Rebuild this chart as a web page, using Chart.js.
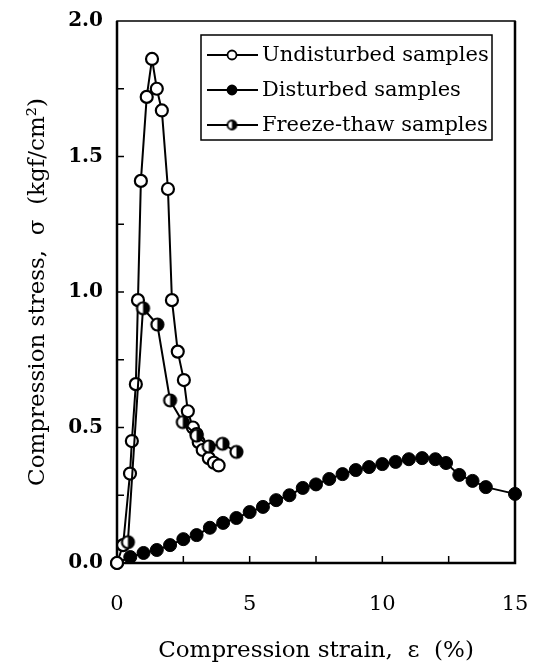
<!DOCTYPE html>
<html><head><meta charset="utf-8">
<script src="https://cdn.jsdelivr.net/npm/chart.js@4"></script>
<style>html,body{margin:0;padding:0;background:#fff}#c{display:block}</style>
</head><body>
<canvas id="c" width="541" height="670"></canvas>
<script>
const seriesLabels = ['Undisturbed samples', 'Disturbed samples', 'Freeze-thaw samples'];
const undisturbedX = [0, 0.23, 0.49, 0.56, 0.71, 0.79, 0.90, 1.12, 1.32, 1.50, 1.69, 1.92, 2.07, 2.29, 2.52, 2.67, 2.86, 3.00, 3.08, 3.23, 3.46, 3.65, 3.83];
const undisturbedY = [0, 0.066, 0.33, 0.45, 0.66, 0.97, 1.41, 1.72, 1.86, 1.75, 1.67, 1.38, 0.97, 0.78, 0.675, 0.56, 0.50, 0.476, 0.446, 0.417, 0.387, 0.37, 0.36];
const disturbedX = [0, 0.5, 1.0, 1.5, 2.0, 2.5, 3.0, 3.5, 4.0, 4.5, 5.0, 5.5, 6.0, 6.5, 7.0, 7.5, 8.0, 8.5, 9.0, 9.5, 10.0, 10.5, 11.0, 11.5, 12.0, 12.4, 12.9, 13.4, 13.9, 15.0];
const disturbedY = [0, 0.022, 0.037, 0.048, 0.066, 0.088, 0.103, 0.13, 0.148, 0.166, 0.188, 0.207, 0.232, 0.25, 0.277, 0.29, 0.31, 0.328, 0.343, 0.354, 0.365, 0.373, 0.383, 0.387, 0.383, 0.369, 0.325, 0.303, 0.28, 0.255];
const freezeX = [0.41, 0.98, 1.52, 2.00, 2.48, 3.00, 3.46, 3.98, 4.50];
const freezeY = [0.077, 0.94, 0.88, 0.60, 0.52, 0.47, 0.43, 0.44, 0.41];
const xTickLabels = [0, 5, 10, 15];
const yTickLabels = ['0.0', '0.5', '1.0', '1.5', '2.0'];
const xMinorTicks = [2.5, 5, 7.5, 10, 12.5];
const yMinorTicks = [0.25, 0.5, 0.75, 1.0, 1.25, 1.5, 1.75];

const SERIF = '"DejaVu Serif", "Liberation Serif", serif';

function halfCircle(r, lw) {
  const c = document.createElement('canvas');
  const s = Math.ceil(2 * r + lw + 2);
  c.width = c.height = s;
  const g = c.getContext('2d');
  const m = s / 2;
  g.beginPath(); g.arc(m, m, r, 0, 2 * Math.PI); g.fillStyle = '#fff'; g.fill();
  g.beginPath(); g.moveTo(m, m - r); g.arc(m, m, r, -Math.PI / 2, Math.PI / 2); g.closePath(); g.fillStyle = '#000'; g.fill();
  g.beginPath(); g.arc(m, m, r, 0, 2 * Math.PI); g.lineWidth = lw; g.strokeStyle = '#000'; g.stroke();
  return c;
}
const halfBig = halfCircle(6, 2.2);
const halfSmall = halfCircle(4.5, 1.8);

const toPts = (xs, ys) => xs.map((x, i) => ({x, y: ys[i]}));

const framePlugin = {
  id: 'frame',
  beforeDatasetsDraw(chart) {
    const {ctx, chartArea: a, scales} = chart;
    ctx.save();
    ctx.strokeStyle = '#000';
    ctx.lineWidth = 1.5;
    ctx.strokeRect(a.left, a.top, a.right - a.left, a.bottom - a.top);
    ctx.lineWidth = 2.5;
    ctx.beginPath();
    ctx.moveTo(a.left, a.top); ctx.lineTo(a.left, a.bottom); ctx.lineTo(a.right, a.bottom); ctx.lineTo(a.right, a.top);
    ctx.stroke();
    ctx.lineWidth = 1.5;
    ctx.beginPath();
    xMinorTicks.forEach(v => { const px = scales.x.getPixelForValue(v); ctx.moveTo(px, a.bottom); ctx.lineTo(px, a.bottom - 7); });
    yMinorTicks.forEach(v => { const py = scales.y.getPixelForValue(v); ctx.moveTo(a.left, py); ctx.lineTo(a.left + 7, py); });
    ctx.stroke();
    ctx.restore();
  },
  afterDraw(chart) {
    const {ctx} = chart;
    ctx.save();
    const bx = 201, by = 35, bw = 291, bh = 105;
    ctx.fillStyle = '#fff';
    ctx.fillRect(bx, by, bw, bh);
    ctx.strokeStyle = '#000';
    ctx.lineWidth = 1.5;
    ctx.strokeRect(bx, by, bw, bh);
    const rows = [55, 90, 125];
    ctx.font = '21px ' + SERIF;
    ctx.textBaseline = 'middle';
    ctx.textAlign = 'left';
    rows.forEach((ry, i) => {
      ctx.lineWidth = 2;
      ctx.strokeStyle = '#000';
      ctx.beginPath(); ctx.moveTo(207, ry); ctx.lineTo(258, ry); ctx.stroke();
      if (i === 2) {
        ctx.drawImage(halfSmall, 232 - halfSmall.width / 2, ry - halfSmall.height / 2);
      } else {
        ctx.beginPath(); ctx.arc(232, ry, 4.5, 0, 2 * Math.PI);
        ctx.fillStyle = i === 0 ? '#fff' : '#000';
        ctx.fill(); ctx.lineWidth = 1.8; ctx.stroke();
      }
      ctx.fillStyle = '#000';
      ctx.fillText(seriesLabels[i], 262, ry + 1);
    });
    ctx.restore();
  }
};

new Chart(document.getElementById('c'), {
  type: 'scatter',
  data: {
    datasets: [
      {label: seriesLabels[2], data: toPts(freezeX, freezeY), showLine: true, borderColor: '#000', borderWidth: 2,
       pointStyle: halfBig, pointRadius: 6, clip: false, order: 0},
      {label: seriesLabels[0], data: toPts(undisturbedX, undisturbedY), showLine: true, borderColor: '#000', borderWidth: 2,
       pointRadius: 6, pointBorderWidth: 2.2, pointBackgroundColor: '#fff', pointBorderColor: '#000', clip: false, order: 1},
      {label: seriesLabels[1], data: toPts(disturbedX, disturbedY), showLine: true, borderColor: '#000', borderWidth: 2,
       pointRadius: 6.5, pointBorderWidth: 1, pointBackgroundColor: '#000', pointBorderColor: '#000', clip: false, order: 2}
    ]
  },
  options: {
    responsive: false,
    animation: false,
    devicePixelRatio: 1,
    layout: {padding: {top: 21, right: 26, left: 0, bottom: 0}},
    plugins: {legend: {display: false}, tooltip: {enabled: false}},
    scales: {
      x: {
        type: 'linear', min: 0, max: 15,
        afterFit: s => { s.height = 107; s.paddingLeft = 0; s.paddingRight = 0; },
        afterBuildTicks: s => { s.ticks = xTickLabels.map(v => ({value: v})); },
        ticks: {color: '#000', font: {family: SERIF, size: 21}, padding: 29, maxRotation: 0,
                callback: v => String(v)},
        grid: {display: false, drawTicks: false},
        border: {display: false},
        title: {display: true, text: 'Compression strain,  \u03B5  (%)', color: '#000',
                font: {family: SERIF, size: 23}, padding: {top: 0, bottom: 5}}
      },
      y: {
        type: 'linear', min: 0, max: 2,
        afterFit: s => { s.width = 117; s.paddingTop = 0; s.paddingBottom = 0; },
        afterBuildTicks: s => { s.ticks = yTickLabels.map(v => ({value: parseFloat(v)})); },
        ticks: {color: '#000', font: {family: SERIF, size: 20, weight: 'bold'}, padding: 14,
                callback: (v, i) => yTickLabels[i]},
        grid: {display: false, drawTicks: false},
        border: {display: false},
        title: {display: true, text: 'Compression stress,  \u03C3  (kgf/cm\u00B2)', color: '#000',
                font: {family: SERIF, size: 23}, padding: {top: 24, bottom: 0}}
      }
    }
  },
  plugins: [framePlugin]
});
</script>
</body></html>
